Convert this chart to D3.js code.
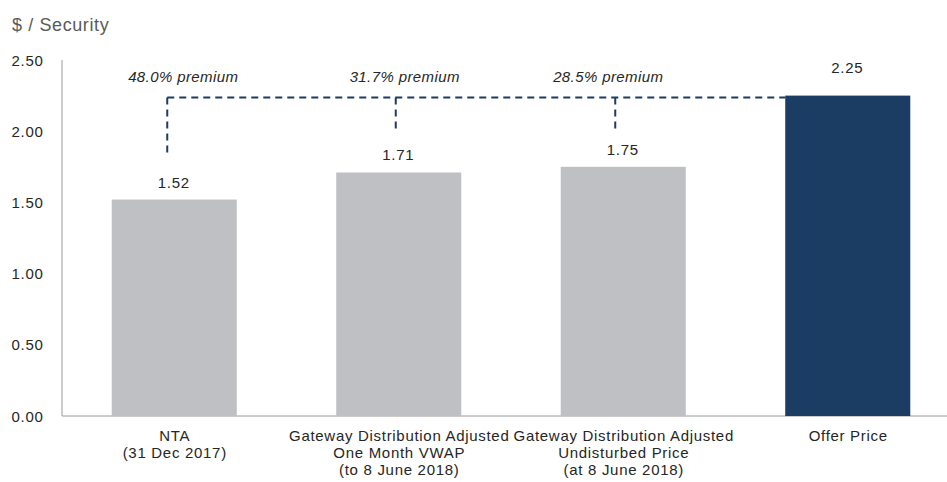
<!DOCTYPE html>
<html><head><meta charset="utf-8">
<script src="https://cdn.jsdelivr.net/npm/d3@7"></script>
<style>body{margin:0;background:#fff}svg{display:block;font-family:"Liberation Sans",Arial,Helvetica,sans-serif}svg text{letter-spacing:0.7px}</style>
</head><body><svg id="c" width="947" height="482"></svg>
<script>
const categories = [
  ["NTA", "(31 Dec 2017)"],
  ["Gateway Distribution Adjusted", "One Month VWAP", "(to 8 June 2018)"],
  ["Gateway Distribution Adjusted", "Undisturbed Price", "(at 8 June 2018)"],
  ["Offer Price"]
];
const values = [1.52, 1.71, 1.75, 2.25];
const valueLabels = ["1.52", "1.71", "1.75", "2.25"];
const premiums = ["48.0% premium", "31.7% premium", "28.5% premium"];
const yTicks = [0, 0.5, 1.0, 1.5, 2.0, 2.5];
const yTitle = "$ / Security";

const svg = d3.select("#c");
const x = d3.scaleBand().domain(d3.range(values.length)).range([62, 960]).paddingInner(0.443).paddingOuter(0.2215);
const y = d3.scaleLinear().domain([0, 2.5]).range([416, 60]);
const navy = "#1c3d63", grey = "#bfc0c3", ink = "#262626";

svg.append("text").attr("x", 12).attr("y", 31).attr("font-size", 18).attr("fill", "#5a5a5a")
  .style("letter-spacing", "0.6px").text(yTitle);

// axes
svg.append("line").attr("x1", 62).attr("x2", 62).attr("y1", y(2.5)).attr("y2", y(0)).attr("stroke", "#9a9a9a");
svg.append("line").attr("x1", 62).attr("x2", 947).attr("y1", y(0)).attr("y2", y(0)).attr("stroke", "#9a9a9a");
svg.selectAll(".yt").data(yTicks).join("text")
  .attr("x", 43.5).attr("y", d => y(d) + 5.5).attr("text-anchor", "end")
  .attr("font-size", 15).attr("fill", ink).text(d => d.toFixed(2));

// bars
const last = values.length - 1;
svg.selectAll(".bar").data(values).join("rect")
  .attr("x", (d, i) => x(i)).attr("width", x.bandwidth())
  .attr("y", d => y(d)).attr("height", d => y(0) - y(d))
  .attr("fill", (d, i) => i === last ? navy : grey);

// value labels
svg.selectAll(".vl").data(values).join("text")
  .attr("x", (d, i) => x(i) + x.bandwidth() / 2 - 0.5)
  .attr("y", (d, i) => y(d) - (i === last ? 23 : 12))
  .attr("text-anchor", "middle").attr("font-size", 15).attr("fill", ink)
  .text((d, i) => valueLabels[i]);

// category labels
categories.forEach((lines, i) => {
  const t = svg.append("text").attr("text-anchor", "middle").attr("font-size", 15).attr("fill", ink);
  lines.forEach((l, j) => t.append("tspan").attr("x", x(i) + x.bandwidth() / 2 + 0.5).attr("y", 441 + j * 17).text(l));
});

// premium connectors
const lineY = y(values[last]) + 2;
const stubOffsets = [-7, -3, -8];
svg.append("line").attr("x1", x(0) + x.bandwidth() / 2 + stubOffsets[0]).attr("x2", x(last))
  .attr("y1", lineY).attr("y2", lineY)
  .attr("stroke", navy).attr("stroke-width", 2).attr("stroke-dasharray", "7,5");
premiums.forEach((p, i) => {
  const cx = x(i) + x.bandwidth() / 2 + stubOffsets[i];
  const stubLen = i === 0 ? 60 : 36;
  svg.append("line").attr("x1", cx).attr("x2", cx).attr("y1", lineY).attr("y2", lineY + stubLen)
    .attr("stroke", navy).attr("stroke-width", 2).attr("stroke-dasharray", "7,5");
  svg.append("text").attr("x", cx + 16 - (i === 0 ? 0 : 7) - (i === 2 ? 16 : 0)).attr("y", 82)
    .attr("text-anchor", "middle").attr("font-size", 15).attr("font-style", "italic")
    .style("letter-spacing", "0.4px").attr("fill", ink).text(p);
});
</script></body></html>
